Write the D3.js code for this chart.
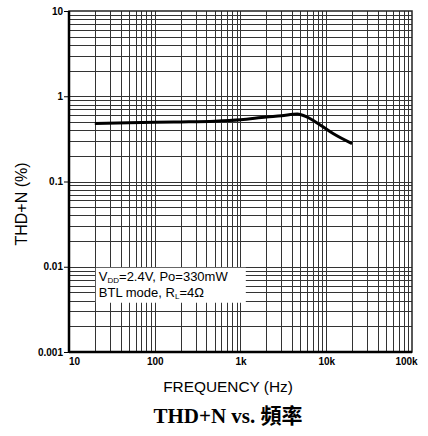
<!DOCTYPE html>
<html>
<head>
<meta charset="utf-8">
<script src="https://cdnjs.cloudflare.com/ajax/libs/d3/7.8.5/d3.min.js"></script>
<style>
  body { margin: 0; background: #fff; }
  svg text { font-family: Arial, "Liberation Sans", sans-serif; }
</style>
</head>
<body>
<div id="chart"></div>
<script>
// ************** data *****************
var freqHz = [20, 50, 100, 200, 500, 1000, 2000, 3000, 4600, 6000, 8500, 12000, 20000];
var thdPct = [0.48, 0.49, 0.495, 0.5, 0.51, 0.53, 0.57, 0.59, 0.62, 0.57, 0.46, 0.365, 0.278];
var xTicks = [10, 100, 1000, 10000, 100000];
var xTickLabels = ["10", "100", "1k", "10k", "100k"];
var yTicks = [0.001, 0.01, 0.1, 1, 10];
var yTickLabels = ["0.001", "0.01", "0.1", "1", "10"];

var widthTotal = 428, heightTotal = 436;
var margin = {top: 11, right: 16, bottom: 84, left: 69};
var width = widthTotal - margin.left - margin.right,
    height = heightTotal - margin.top - margin.bottom;

var svg = d3.select("#chart").append("svg")
  .attr("width", widthTotal)
  .attr("height", heightTotal);

var g = svg.append("g")
  .attr("transform", "translate(" + margin.left + "," + margin.top + ")");

var x = d3.scaleLog().domain([10, 100000]).range([0, width]);
var y = d3.scaleLog().domain([0.001, 10]).range([height, 0]);

// minor + major grid values
var xGrid = [], yGrid = [];
for (var d = 10; d < 100000; d *= 10) {
  for (var k = 1; k <= 9; k++) xGrid.push(d * k);
}
for (var d = 0.001; d < 9; d *= 10) {
  for (var k = 1; k <= 9; k++) yGrid.push(d * k);
}

g.selectAll("line.vgrid")
  .data(xGrid)
  .enter()
  .append("line")
  .attr("class", "vgrid")
  .attr("x1", function(d) { return Math.round(x(d)) + 0.5; })
  .attr("x2", function(d) { return Math.round(x(d)) + 0.5; })
  .attr("y1", 0)
  .attr("y2", height)
  .attr("stroke", "#333")
  .attr("stroke-width", 1);

g.selectAll("line.hgrid")
  .data(yGrid)
  .enter()
  .append("line")
  .attr("class", "hgrid")
  .attr("x1", 0)
  .attr("x2", width)
  .attr("y1", function(d) { return Math.round(y(d)) + 0.5; })
  .attr("y2", function(d) { return Math.round(y(d)) + 0.5; })
  .attr("stroke", "#333")
  .attr("stroke-width", 1);

// frame
g.append("rect")
  .attr("x", 0)
  .attr("y", 0)
  .attr("width", width)
  .attr("height", height)
  .attr("fill", "none")
  .attr("stroke", "#222")
  .attr("stroke-width", 1.5);

g.append("line")
  .attr("x1", 0).attr("x2", 0)
  .attr("y1", 0).attr("y2", height)
  .attr("stroke", "#000")
  .attr("stroke-width", 2.5);
g.append("line")
  .attr("x1", 0).attr("x2", width)
  .attr("y1", height).attr("y2", height)
  .attr("stroke", "#000")
  .attr("stroke-width", 2.5);

// axes
var xAxis = d3.axisBottom(x)
  .tickValues(xTicks)
  .tickSize(0)
  .tickPadding(6)
  .tickFormat(function(d, i) { return xTickLabels[i]; });

var yAxis = d3.axisLeft(y)
  .tickValues(yTicks)
  .tickSize(5)
  .tickPadding(1)
  .tickFormat(function(d, i) { return yTickLabels[i]; });

var gx = g.append("g")
  .attr("transform", "translate(0," + height + ")")
  .call(xAxis);
gx.select(".domain").remove();
gx.selectAll("text")
  .attr("font-size", "10px")
  .attr("font-weight", "bold")
  .attr("font-family", "Arial, 'Liberation Sans', sans-serif")
  .attr("fill", "#000");
gx.selectAll(".tick").filter(function(d) { return d === 10; }).select("text").attr("dx", "5px");
gx.selectAll(".tick").filter(function(d) { return d === 100000; }).select("text").attr("dx", "-6px");

var gy = g.append("g").call(yAxis);
gy.select(".domain").remove();
gy.selectAll("line").attr("stroke", "#000");
gy.selectAll("text")
  .attr("font-size", "10px")
  .attr("font-weight", "bold")
  .attr("font-family", "Arial, 'Liberation Sans', sans-serif")
  .attr("fill", "#000");

// annotation box
var note = g.append("g")
  .attr("transform", "translate(" + (x(20) + 1) + "," + (y(0.01) + 1) + ")");
note.append("rect")
  .attr("x", 0)
  .attr("y", 0)
  .attr("width", 150)
  .attr("height", 35)
  .attr("fill", "#fff");
var t1 = note.append("text")
  .attr("x", 3)
  .attr("y", 13)
  .attr("font-size", "13px")
  .attr("fill", "#000");
t1.append("tspan").text("V");
t1.append("tspan").attr("font-size", "8px").attr("dy", "2").text("DD");
t1.append("tspan").attr("dy", "-2").text("=2.4V, Po=330mW");
var t2 = note.append("text")
  .attr("x", 3)
  .attr("y", 29)
  .attr("font-size", "13px")
  .attr("fill", "#000");
t2.append("tspan").text("BTL mode, R");
t2.append("tspan").attr("font-size", "8px").attr("dy", "2").text("L");
t2.append("tspan").attr("dy", "-2").text("=4\u03A9");

// curve
var line = d3.line()
  .x(function(d, i) { return x(freqHz[i]); })
  .y(function(d) { return y(d); })
  .curve(d3.curveMonotoneX);

g.append("path")
  .datum(thdPct)
  .attr("d", line)
  .attr("fill", "none")
  .attr("stroke", "#000")
  .attr("stroke-width", 3)
  .attr("stroke-linejoin", "round");

// titles
svg.append("text")
  .attr("x", 228)
  .attr("y", 392)
  .attr("text-anchor", "middle")
  .attr("font-size", "15.4px")
  .attr("fill", "#000")
  .text("FREQUENCY (Hz)");

svg.append("text")
  .attr("transform", "translate(27,204) rotate(-90)")
  .attr("text-anchor", "middle")
  .attr("font-size", "16px")
  .attr("fill", "#000")
  .text("THD+N (%)");

svg.append("text")
  .attr("x", 228)
  .attr("y", 423)
  .attr("text-anchor", "middle")
  .attr("font-size", "21px")
  .attr("font-weight", "bold")
  .style("font-family", "'Liberation Serif', 'Noto Sans CJK TC', serif")
  .attr("fill", "#000")
  .text("THD+N vs. 頻率");
</script>
</body>
</html>
